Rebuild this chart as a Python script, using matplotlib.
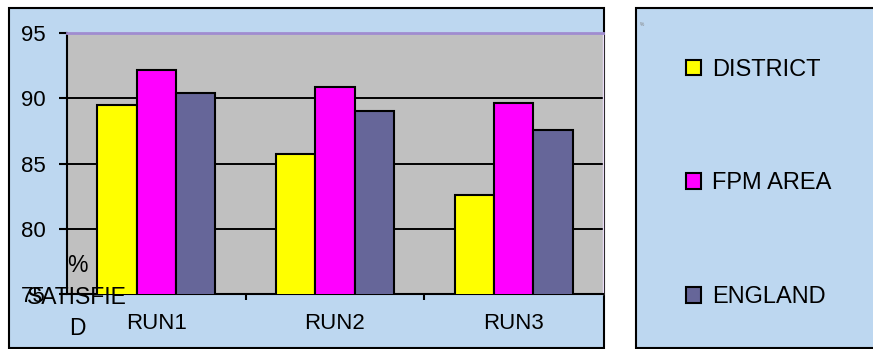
import numpy as np
import matplotlib
matplotlib.use("Agg")
import matplotlib.pyplot as plt
from matplotlib.patches import Rectangle

plt.rcParams['font.family'] = ['Liberation Sans', 'DejaVu Sans']

# Satisfaction (%) by run
runs = ["RUN1", "RUN2", "RUN3"]
district = [89.5, 85.7, 82.6]
fpm_area = [92.2, 90.9, 89.6]
england = [90.4, 89.0, 87.6]
series_names = ["DISTRICT", "FPM AREA", "ENGLAND"]
series_colors = ["#FFFF00", "#FF00FF", "#666699"]
yticks = [75, 80, 85, 90, 95]

W, H = 873, 349
fig = plt.figure(figsize=(W / 100, H / 100), dpi=100)
fig.patch.set_facecolor("white")


def px_box(x0, y0, x1, y1):
    """Pixel box (top-left origin) -> figure fraction [left, bottom, width, height]."""
    return [x0 / W, 1 - y1 / H, (x1 - x0) / W, (y1 - y0) / H]


panel_bg = "#BDD7F0"
for x0, x1 in [(9, 604), (636, 900)]:
    l, b, w, h = px_box(x0, 8, x1, 348)
    fig.patches.append(Rectangle((l, b), w, h, transform=fig.transFigure,
                                 facecolor=panel_bg, edgecolor="black",
                                 linewidth=1.5, zorder=-5))

ax = fig.add_axes(px_box(67, 33, 603, 294))
ax.set_facecolor("#C0C0C0")

x = np.arange(len(runs))
bw = 0.22
handles = []
for i, (vals, name, col) in enumerate(zip([district, fpm_area, england],
                                          series_names, series_colors)):
    bars = ax.bar(x + (i - 1) * bw, vals, width=bw, color=col,
                  edgecolor="black", linewidth=1.5, label=name, zorder=3)
    handles.append(bars)

ax.set_xlim(-0.5, len(runs) - 0.5)
ax.set_ylim(yticks[0], yticks[-1])
ax.set_yticks(yticks)
ax.set_yticklabels([str(v) for v in yticks])
ax.yaxis.grid(True, color="black", linewidth=1.4)
ax.get_ygridlines()[-1].set_visible(False)
ax.set_axisbelow(True)

ax.set_xticks(x)
ax.set_xticklabels(runs)
ax.set_xticks(x[:-1] + 0.5, minor=True)
ax.tick_params(axis="x", which="major", length=0, pad=13.5, labelsize=16)
ax.tick_params(axis="x", which="minor", length=4.3, width=1.5, direction="out")
ax.tick_params(axis="y", length=5.8, width=1.5, direction="out", pad=9.4,
               labelsize=16)

for side in ("left", "bottom"):
    ax.spines[side].set_color("black")
    ax.spines[side].set_linewidth(1.5)
ax.spines["top"].set_color("#A08CD0")
ax.spines["top"].set_linewidth(2)
ax.spines["right"].set_color("#EADCF8")
ax.spines["right"].set_linewidth(1)

fig.text(77 / W, 1 - 297 / H, "%\nSATISFIE\nD", ha="center", va="center",
         fontsize=16.5, linespacing=1.45)

fig.legend(handles=handles, labels=series_names, loc="center left",
           bbox_to_anchor=(686 / W, 1 - 183.5 / H), frameon=False,
           fontsize=17, handlelength=0.64, handleheight=0.64,
           handletextpad=0.45, labelspacing=3.88, borderpad=0,
           borderaxespad=0)

fig.text(640 / W, 1 - 25 / H, "%", fontsize=3.5, color="#808080",
         ha="left", va="center")

fig.savefig("out.png", dpi=100, facecolor=fig.get_facecolor())
